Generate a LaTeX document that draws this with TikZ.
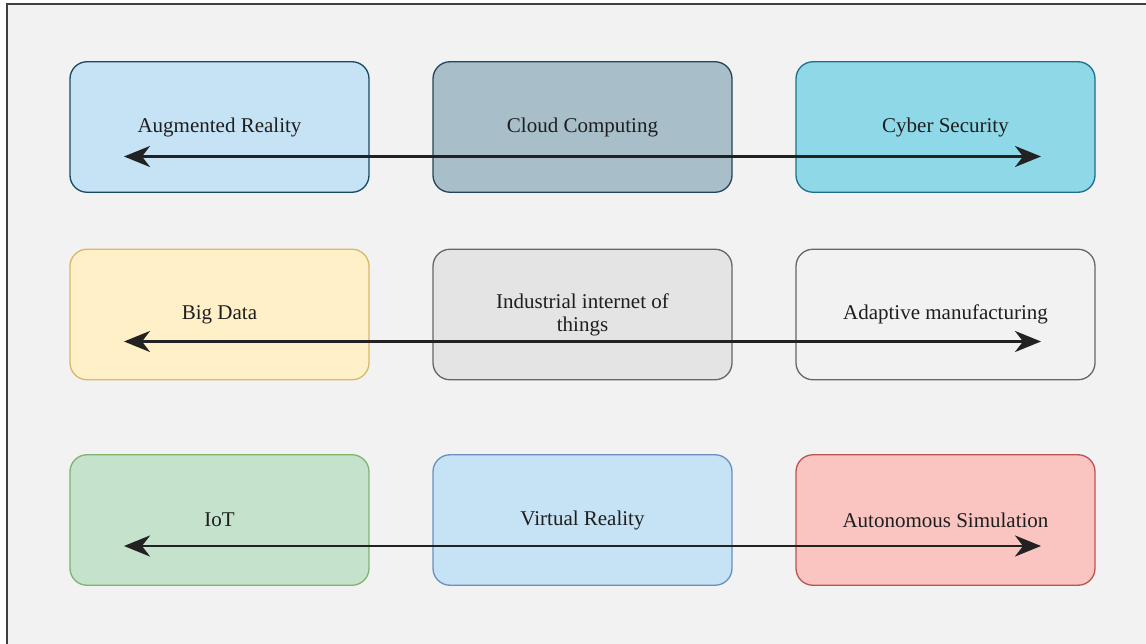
\documentclass[tikz,border=0pt]{standalone}
\usepackage{fontspec}
\setmainfont{Liberation Serif}
\usetikzlibrary{arrows.meta}
\definecolor{bg}{HTML}{F2F2F2}
\definecolor{txt}{HTML}{1E1E1E}
\definecolor{arF}{HTML}{C6E2F5}\definecolor{arD}{HTML}{154A63}
\definecolor{ccF}{HTML}{A8BFCA}\definecolor{ccD}{HTML}{23445D}
\definecolor{csF}{HTML}{8FD8E8}\definecolor{csD}{HTML}{1E6D8E}
\definecolor{bdF}{HTML}{FFF0C8}\definecolor{bdD}{HTML}{D9B866}
\definecolor{iiF}{HTML}{E4E4E4}\definecolor{iiD}{HTML}{666666}
\definecolor{amF}{HTML}{F2F2F2}\definecolor{amD}{HTML}{666666}
\definecolor{ioF}{HTML}{C5E3CC}\definecolor{ioD}{HTML}{82B36E}
\definecolor{vrF}{HTML}{C6E2F5}\definecolor{vrD}{HTML}{6C8EBF}
\definecolor{asF}{HTML}{FAC5C1}\definecolor{asD}{HTML}{B85450}
\definecolor{arrowc}{HTML}{222222}
\begin{document}
\begin{tikzpicture}[x=1pt,y=-1pt,
  box/.style={rounded corners=17pt, line width=1.3pt, minimum width=299pt,
    minimum height=130.5pt, inner sep=0pt, text=txt, align=center,
    font=\fontsize{21}{23}\selectfont},
  biarrow/.style={line width=2.8pt, arrowc,
    {Stealth[length=26pt,width=21pt,inset=8pt]}-{Stealth[length=26pt,width=21pt,inset=8pt]}}]
\useasboundingbox (0,0) rectangle (1146,644);
\fill[white] (0,0) rectangle (1146,644);
\fill[bg] (7,4) rectangle (1146,644);
\draw[line width=1.5pt, color=black!75] (7,650) -- (7,4) -- (1150,4);
% row 1
\node[box, fill=arF, draw=arD] (ar) at (219.5,127) {Augmented Reality};
\node[box, fill=ccF, draw=ccD] (cc) at (582.5,127) {Cloud Computing};
\node[box, fill=csF, draw=csD] (cs) at (945.5,127) {Cyber Security};
% row 2
\node[box, fill=bdF, draw=bdD] (bd) at (219.5,314.5) {Big Data};
\node[box, fill=iiF, draw=iiD] (ii) at (582.5,314.5) {Industrial internet of\\things};
\node[box, fill=amF, draw=amD] (am) at (945.5,314.5) {Adaptive manufacturing};
% row 3
\node[box, fill=ioF, draw=ioD] (io) at (219.5,520) {IoT};
\node[box, fill=vrF, draw=vrD] (vr) at (582.5,520) {Virtual Reality};
\node[box, fill=asF, draw=asD] (as) at (945.5,520) {Autonomous Simulation};
% arrows
\coordinate (l1) at (124,156.5); \coordinate (r1) at (1041,156.5);
\coordinate (l2) at (124,341.5); \coordinate (r2) at (1041,341.5);
\coordinate (l3) at (124,546); \coordinate (r3) at (1041,546);
\draw[biarrow] (l1) -- (r1);
\draw[biarrow] (l2) -- (r2);
\draw[biarrow] (l3) -- (r3);
\end{tikzpicture}
\end{document}
